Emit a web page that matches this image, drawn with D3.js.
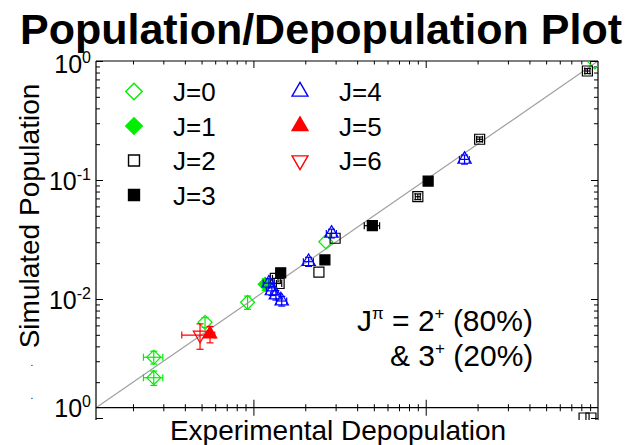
<!DOCTYPE html>
<html><head><meta charset="utf-8">
<script src="https://cdn.jsdelivr.net/npm/d3@7"></script>
<style>
html,body{margin:0;padding:0;background:#fff;}
text{font-family:Arial,"Liberation Sans",sans-serif;fill:#000;}
</style></head><body>
<svg id="chart" width="635" height="445"></svg>
<script>
// ---------- data ----------
const titleText = "Population/Depopulation Plot";
const xLabelText = "Experimental Depopulation";
const yLabelText = "Simulated Population";
const yTickValues = [1, 0.1, 0.01];
const yTickExponents = ["0", "-1", "-2"];
const cornerLabel = ["10", "0"];
const legendLabels = ["J=0", "J=1", "J=2", "J=3", "J=4", "J=5", "J=6"];

// J=0 open green diamonds
const j0X = [0.00264, 0.00264, 0.00524, 0.00925, 0.0263, 0.96];
const j0Y = [0.00324, 0.00218, 0.00637, 0.00938, 0.0303, 0.98];
const j0XErr = [0.00034, 0.00034, 0, 0, 0, 0];
const j0YErr = [0.0004, 0.0003, 0.0006, 0.0012, 0, 0];
// J=1 filled green diamonds
const j1X = [0.0117];
const j1Y = [0.0133];
const j1XErr = [0];
const j1YErr = [0.0015];
// J=2 open black squares
const j2X = [0.0134, 0.0141, 0.0240, 0.0298, 0.090, 0.2056, 0.868, 0.83, 0.91];
const j2Y = [0.0149, 0.0135, 0.0168, 0.0324, 0.0724, 0.22, 0.824, 0.00100, 0.00100];
const j2XErr = [0.0005, 0.0005, 0, 0, 0.003, 0.008, 0.03, 0, 0];
const j2YErr = [0, 0, 0, 0, 0.004, 0.01, 0.04, 0, 0];
// J=3 filled black squares
const j3X = [0.0144, 0.0260, 0.049, 0.1033];
const j3Y = [0.0166, 0.0213, 0.0413, 0.098];
const j3XErr = [0, 0, 0.005, 0];
const j3YErr = [0, 0, 0, 0];
// J=4 open blue triangles (up)
const j4X = [0.0123, 0.0128, 0.0135, 0.0146, 0.0209, 0.0284, 0.168];
const j4Y = [0.0136, 0.0117, 0.0108, 0.00962, 0.0206, 0.0356, 0.149];
const j4XErr = [0.0009, 0.0009, 0.0009, 0.001, 0.0014, 0.0019, 0.011];
const j4YErr = [0.0012, 0.001, 0.001, 0.0009, 0.0018, 0.003, 0.013];
// J=5 filled red triangles (up)
const j5X = [0.0056];
const j5Y = [0.00508];
const j5XErr = [0];
const j5YErr = [0.0008];
// J=6 open red triangles (down)
const j6X = [0.0049];
const j6Y = [0.00498];
const j6XErr = [0.00106];
const j6YErr = [0.0012];

// ---------- chart ----------
const svg = d3.select("#chart");
const x = d3.scaleLog().domain([0.00122, 1]).range([96, 598]);
const y = d3.scaleLog().domain([0.001, 1]).range([418, 61]);
const yAxisBottom = y(0.00122);

const series = [
  {label: legendLabels[0], xs: j0X, ys: j0Y, xe: j0XErr, ye: j0YErr, shape: "diamond", color: "#00ee00", filled: false},
  {label: legendLabels[1], xs: j1X, ys: j1Y, xe: j1XErr, ye: j1YErr, shape: "diamond", color: "#00ee00", filled: true},
  {label: legendLabels[2], xs: j2X, ys: j2Y, xe: j2XErr, ye: j2YErr, shape: "square", color: "#000000", filled: false},
  {label: legendLabels[3], xs: j3X, ys: j3Y, xe: j3XErr, ye: j3YErr, shape: "square", color: "#000000", filled: true},
  {label: legendLabels[4], xs: j4X, ys: j4Y, xe: j4XErr, ye: j4YErr, shape: "up", color: "#0000ff", filled: false},
  {label: legendLabels[5], xs: j5X, ys: j5Y, xe: j5XErr, ye: j5YErr, shape: "up", color: "#ff0000", filled: true},
  {label: legendLabels[6], xs: j6X, ys: j6Y, xe: j6XErr, ye: j6YErr, shape: "down", color: "#ff0000", filled: false}
];

function symbolPath(shape, scale) {
  if (shape === "diamond") return d3.symbol(d3.symbolSquare, 98 * scale)();
  if (shape === "square") return d3.symbol(d3.symbolSquare, 100 * scale)();
  return d3.symbol(d3.symbolTriangle, 78 * scale)();
}
function symbolRotate(shape) {
  if (shape === "diamond") return 45;
  if (shape === "down") return 180;
  return 0;
}

// title
svg.append("text").attr("x", 321).attr("y", 44).attr("text-anchor", "middle")
  .style("font-size", "43px").style("font-weight", "bold").text(titleText);

// diagonal y = x line
svg.append("line")
  .attr("x1", x(0.00122)).attr("y1", y(0.00122))
  .attr("x2", x(1)).attr("y2", y(1))
  .attr("stroke", "#a0a0a0").attr("stroke-width", 1.2);

// tick values
function logTicks(lo, hi) {
  const out = [];
  for (let e = -3; e <= 0; e++) for (let k = 1; k <= 9; k++) {
    const v = k * Math.pow(10, e);
    if (v >= lo * 0.999 && v <= hi * 1.001) out.push(v);
  }
  return out;
}
const xTicksAll = logTicks(0.00122, 1);
const xMajor = xTicksAll.filter(v => Math.abs(Math.log10(v) - Math.round(Math.log10(v))) < 1e-9 && v < 0.999);
const xMinor = xTicksAll.filter(v => !xMajor.includes(v) && v < 0.999);
const yTicksAll = logTicks(0.001, 1);
const yMajor = yTicksAll.filter(v => Math.abs(Math.log10(v) - Math.round(Math.log10(v))) < 1e-9);
const yMinor = yTicksAll.filter(v => !yMajor.includes(v));

function styleAxis(g) {
  g.select(".domain").remove();
  g.selectAll(".tick line").attr("stroke", "#000").attr("stroke-width", 1);
  g.selectAll(".tick text").remove();
}

// bottom axis (ticks crossing the line)
const bottomY = yAxisBottom;
svg.append("g").attr("transform", `translate(0,${bottomY})`)
  .call(d3.axisBottom(x).tickValues(xMinor).tickSize(3.5).tickFormat("")).call(styleAxis);
svg.append("g").attr("transform", `translate(0,${bottomY})`)
  .call(d3.axisTop(x).tickValues(xMinor).tickSize(3.5).tickFormat("")).call(styleAxis);
svg.append("g").attr("transform", `translate(0,${bottomY})`)
  .call(d3.axisBottom(x).tickValues(xMajor).tickSize(8).tickFormat("")).call(styleAxis);
svg.append("g").attr("transform", `translate(0,${bottomY})`)
  .call(d3.axisTop(x).tickValues(xMajor).tickSize(8).tickFormat("")).call(styleAxis);
// top axis (inward ticks)
svg.append("g").attr("transform", `translate(0,${y(1)})`)
  .call(d3.axisBottom(x).tickValues(xMinor).tickSize(3.5).tickFormat("")).call(styleAxis);
svg.append("g").attr("transform", `translate(0,${y(1)})`)
  .call(d3.axisBottom(x).tickValues(xMajor).tickSize(7).tickFormat("")).call(styleAxis);
// left axis (inward ticks)
svg.append("g").attr("transform", `translate(${x(0.00122)},0)`)
  .call(d3.axisRight(y).tickValues(yMinor).tickSize(4).tickFormat("")).call(styleAxis);
svg.append("g").attr("transform", `translate(${x(0.00122)},0)`)
  .call(d3.axisRight(y).tickValues(yMajor).tickSize(7).tickFormat("")).call(styleAxis);
// right axis (inward ticks)
svg.append("g").attr("transform", `translate(${x(1)},0)`)
  .call(d3.axisLeft(y).tickValues(yMinor).tickSize(4).tickFormat("")).call(styleAxis);
svg.append("g").attr("transform", `translate(${x(1)},0)`)
  .call(d3.axisLeft(y).tickValues(yMajor).tickSize(7).tickFormat("")).call(styleAxis);

// frame lines
const frame = svg.append("g").attr("stroke", "#000").attr("stroke-width", 1.2);
frame.append("line").attr("x1", x(0.00122)).attr("x2", x(0.00122)).attr("y1", y(1)).attr("y2", y(0.001) + 2);
frame.append("line").attr("x1", x(1)).attr("x2", x(1)).attr("y1", y(1)).attr("y2", y(0.001) + 2);
frame.append("line").attr("x1", x(0.00122)).attr("x2", x(1)).attr("y1", y(1)).attr("y2", y(1));
frame.append("line").attr("x1", x(0.00122)).attr("x2", x(1)).attr("y1", bottomY).attr("y2", bottomY);

// y tick labels
yTickValues.forEach((v, i) => {
  const t = svg.append("text").attr("x", 91).attr("y", y(v) + (i === 0 ? 12 : 10)).attr("text-anchor", "end")
    .style("font-size", "25px");
  t.append("tspan").text("10");
  t.append("tspan").attr("dy", -10).style("font-size", "16px").text(yTickExponents[i]);
});
{
  const t = svg.append("text").attr("x", 91).attr("y", bottomY + 9).attr("text-anchor", "end")
    .style("font-size", "25px");
  t.append("tspan").text(cornerLabel[0]);
  t.append("tspan").attr("dy", -10).style("font-size", "16px").text(cornerLabel[1]);
}

// axis titles
svg.append("text").attr("x", 338).attr("y", 440).attr("text-anchor", "middle")
  .style("font-size", "28px").text(xLabelText);
svg.append("text").attr("transform", "translate(39,216) rotate(-90)").attr("text-anchor", "middle")
  .style("font-size", "28px").text(yLabelText);
svg.append("text").attr("x", 32).attr("y", 366).attr("text-anchor", "middle").style("font-size", "10px").text(".");
svg.append("text").attr("x", 32).attr("y", 399).attr("text-anchor", "middle").style("font-size", "10px").text(".");

// data
svg.append("clipPath").attr("id", "plotclip").append("rect")
  .attr("x", x(0.00122)).attr("y", y(1)).attr("width", x(1) - x(0.00122)).attr("height", y(0.001) + 2 - y(1));
const plot = svg.append("g").attr("clip-path", "url(#plotclip)");
const cap = 3.5;
series.forEach(s => {
  const g = plot.append("g");
  s.xs.forEach((xv, i) => {
    const yv = s.ys[i];
    const cx = x(xv), cy = y(yv);
    const stroke = s.color;
    if (s.xe[i] > 0) {
      const x1 = x(xv - s.xe[i]), x2 = x(xv + s.xe[i]);
      g.append("line").attr("x1", x1).attr("x2", x2).attr("y1", cy).attr("y2", cy).attr("stroke", stroke).attr("stroke-width", 1.2);
      g.append("line").attr("x1", x1).attr("x2", x1).attr("y1", cy - cap).attr("y2", cy + cap).attr("stroke", stroke).attr("stroke-width", 1.2);
      g.append("line").attr("x1", x2).attr("x2", x2).attr("y1", cy - cap).attr("y2", cy + cap).attr("stroke", stroke).attr("stroke-width", 1.2);
    }
    if (s.ye[i] > 0) {
      const y1 = y(yv - s.ye[i]), y2 = y(yv + s.ye[i]);
      g.append("line").attr("x1", cx).attr("x2", cx).attr("y1", y1).attr("y2", y2).attr("stroke", stroke).attr("stroke-width", 1.2);
      g.append("line").attr("x1", cx - cap).attr("x2", cx + cap).attr("y1", y1).attr("y2", y1).attr("stroke", stroke).attr("stroke-width", 1.2);
      g.append("line").attr("x1", cx - cap).attr("x2", cx + cap).attr("y1", y2).attr("y2", y2).attr("stroke", stroke).attr("stroke-width", 1.2);
    }
    g.append("path").attr("d", symbolPath(s.shape, 1))
      .attr("transform", `translate(${cx},${cy}) rotate(${symbolRotate(s.shape)})`)
      .attr("fill", s.filled ? s.color : "#fff")
      .attr("fill-opacity", s.filled ? 1 : 0)
      .attr("stroke", s.color).attr("stroke-width", 1.2);
  });
});

// legend
const legendCols = [{sx: 134, tx: 173}, {sx: 300, tx: 339}];
const legendRows = [91.5, 126, 160.5, 195];
series.forEach((s, i) => {
  const col = legendCols[i < 4 ? 0 : 1];
  const ry = legendRows[i < 4 ? i : i - 4];
  const sc = s.shape === "square" ? 1.2 : 1.4;
  svg.append("path").attr("d", symbolPath(s.shape, sc))
    .attr("transform", `translate(${col.sx},${ry}) rotate(${symbolRotate(s.shape)})`)
    .attr("fill", s.filled ? s.color : "none")
    .attr("stroke", s.color).attr("stroke-width", 1.4);
  svg.append("text").attr("x", col.tx).attr("y", ry + 9.5).style("font-size", "26px").text(s.label);
});

// annotation
const ann1 = svg.append("text").attr("x", 357).attr("y", 331).style("font-size", "30px");
ann1.append("tspan").text("J");
ann1.append("tspan").attr("dy", -12).style("font-size", "17px").text("π");
ann1.append("tspan").attr("dy", 12).text(" = 2");
ann1.append("tspan").attr("dy", -12).style("font-size", "17px").text("+");
ann1.append("tspan").attr("dy", 12).text(" (80%)");
const ann2 = svg.append("text").attr("x", 390).attr("y", 366).style("font-size", "30px");
ann2.append("tspan").text("& 3");
ann2.append("tspan").attr("dy", -12).style("font-size", "17px").text("+");
ann2.append("tspan").attr("dy", 12).text(" (20%)");
</script>
</body></html>
